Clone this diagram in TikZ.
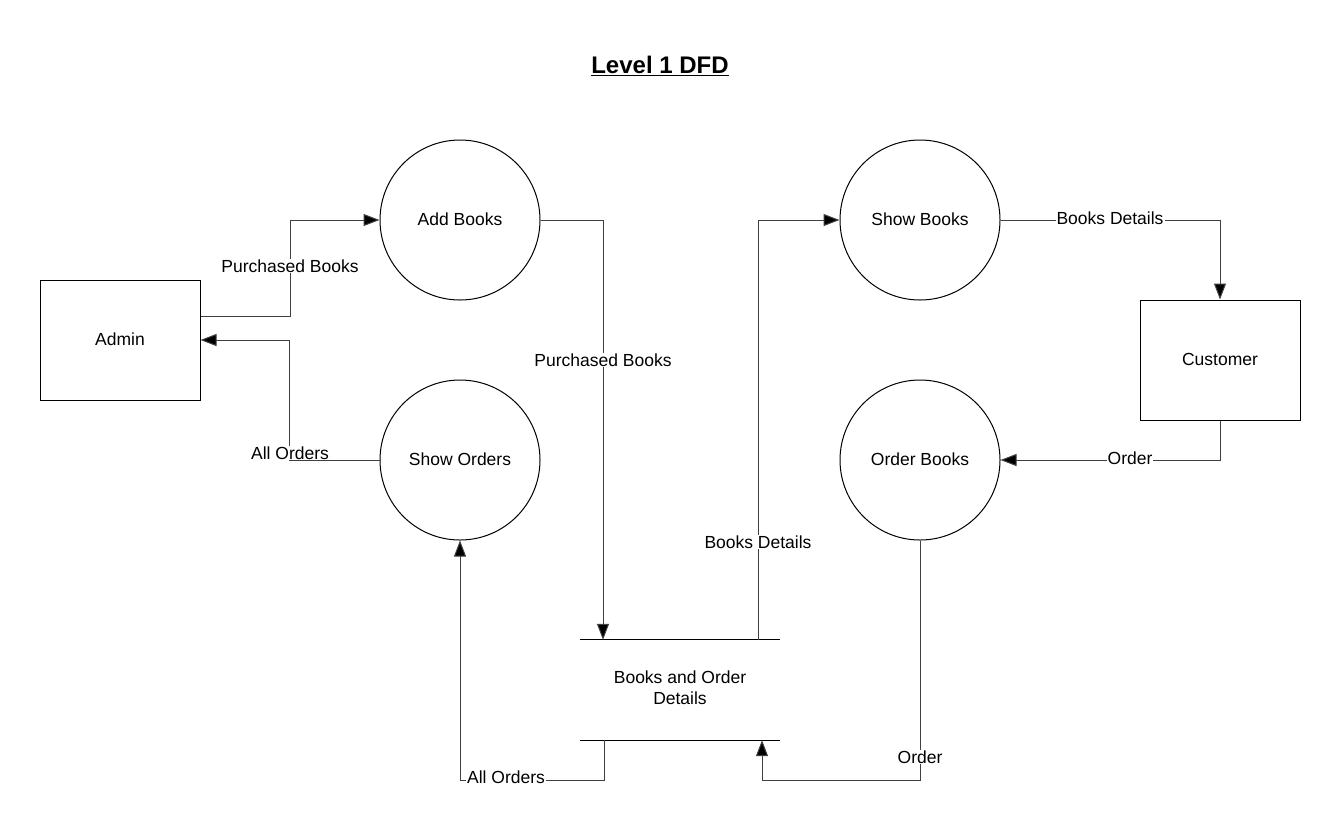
\documentclass[tikz,border=0pt]{standalone}
\usepackage{fontspec}
\setmainfont{Liberation Sans}
\usetikzlibrary{arrows.meta,calc}
\begin{document}
\begin{tikzpicture}[x=1pt,y=-1pt,
  every node/.style={font=\fontsize{17.5}{21}\selectfont},
  proc/.style={draw=black,line width=1pt,circle,minimum size=160pt,inner sep=0pt},
  ent/.style={draw=black,line width=1pt,rectangle,minimum width=160pt,minimum height=120pt,inner sep=0pt},
  storebox/.style={rectangle,minimum width=200pt,minimum height=100pt,inner sep=0pt,align=center},
  flow/.style={draw=black!75,line width=1pt,-{Triangle[length=16pt,width=12pt,fill=black]}},
  lbl/.style={fill=white,inner sep=1pt}]
\useasboundingbox (0,0) rectangle (1340,831);
\fill[white] (0,0) rectangle (1340,831);
\node (title) at (660,66) {\fontsize{24}{28}\selectfont\bfseries\underline{Level 1 DFD}};
\node[ent] (admin) at (120,340) {\raisebox{2pt}{Admin}};
\node[ent] (cust) at (1220,360) {\raisebox{2pt}{Customer}};
\node[proc] (addb) at (460,220) {\raisebox{2pt}{Add Books}};
\node[proc] (sord) at (460,460) {\raisebox{2pt}{Show Orders}};
\node[proc] (showb) at (920,220) {\raisebox{2pt}{Show Books}};
\node[proc] (ordb) at (920,460) {\raisebox{2pt}{Order Books}};
\node[storebox] (store) at (680,690) {\raisebox{3pt}{\begin{tabular}{@{}c@{}}Books and Order\\Details\end{tabular}}};
\draw[line width=1pt] (store.north west) -- (store.north east);
\draw[line width=1pt] (store.south west) -- (store.south east);
% flows
\draw[flow] ([yshift=24pt]admin.east) -- ++(90,0) |- (addb.west);
\node[lbl] (l1) at (290,266) {Purchased Books};
\draw[flow] (sord.west) -- ++(-90,0) |- (admin.east);
\node[lbl] (l2) at (290,453) {All Orders};
\draw[flow] (addb.east) -| ([xshift=-77pt]store.north);
\node[lbl] (l3) at (603,360) {Purchased Books};
\draw[flow] ([xshift=78pt]store.north) |- (showb.west);
\node[lbl] (l4) at (758,542) {Books Details};
\draw[flow] (showb.east) -| (cust.north);
\node[lbl] (l5) at (1110,218) {Books Details};
\draw[flow] (cust.south) |- (ordb.east);
\node[lbl] (l6) at (1130,458) {Order};
\draw[flow] (ordb.south) -- ++(0,240) -| ([xshift=82pt]store.south);
\node[lbl] (l7) at (920,757) {Order};
\draw[flow] ([xshift=-76pt]store.south) -- ++(0,40) -| (sord.south);
\node[lbl] (l8) at (506,777) {All Orders};
\end{tikzpicture}
\end{document}
